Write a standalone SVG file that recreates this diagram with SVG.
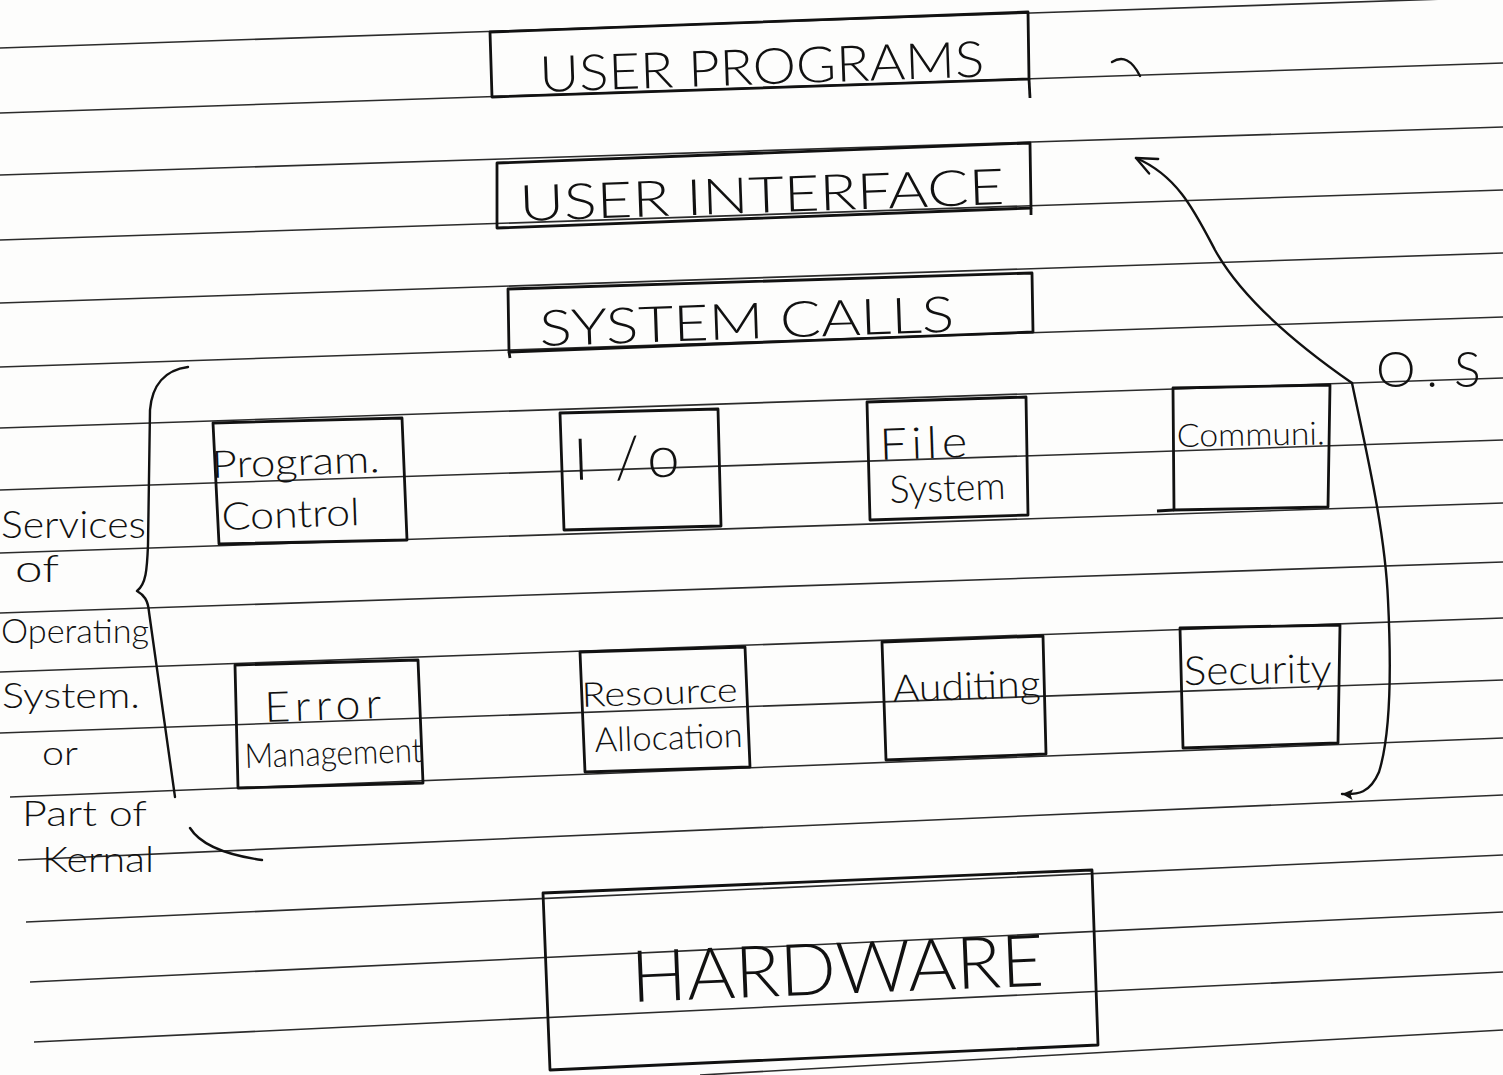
<svg xmlns="http://www.w3.org/2000/svg" width="1503" height="1075" viewBox="0 0 1503 1075">
  <defs>
    <style>
      .rule { stroke: #2b2b2b; stroke-width: 1.6; fill: none; }
      .box { stroke: #111; stroke-width: 2.8; fill: none; stroke-linejoin: round; }
      .ink { stroke: #111; stroke-width: 2.4; fill: none; stroke-linecap: round; stroke-linejoin: round; }
      .cap { font-family: Lato, "Liberation Sans", Arial, sans-serif; font-weight: 300; fill: #111; }
      .hand { font-family: Lato, "Liberation Sans", Arial, sans-serif; font-weight: 300; fill: #111; }
    </style>
    <marker id="openHead" viewBox="0 0 20 20" refX="18" refY="10" markerWidth="26" markerHeight="26" markerUnits="userSpaceOnUse" orient="auto">
      <path d="M18,10 L4,3 M18,10 L2,16" stroke="#111" stroke-width="1.8" fill="none" stroke-linecap="round"/>
    </marker>
    <marker id="solidHead" viewBox="0 0 12 12" refX="11" refY="6" markerWidth="13" markerHeight="13" markerUnits="userSpaceOnUse" orient="auto">
      <path d="M11,6 L1,1 L3,6 L1,11 Z" fill="#111"/>
    </marker>
  </defs>

  <!-- notebook paper -->
  <rect x="0" y="0" width="1503" height="1075" fill="#fdfdfc"/>
  <g id="ruled-lines">
    <line class="rule" x1="0" y1="48" x2="1503" y2="-3"/>
    <line class="rule" x1="0" y1="113" x2="1503" y2="63"/>
    <line class="rule" x1="0" y1="175" x2="1503" y2="127"/>
    <line class="rule" x1="0" y1="240" x2="1503" y2="190"/>
    <line class="rule" x1="0" y1="303" x2="1503" y2="253"/>
    <line class="rule" x1="0" y1="367" x2="1503" y2="317"/>
    <line class="rule" x1="0" y1="428" x2="1503" y2="378"/>
    <line class="rule" x1="0" y1="490" x2="1503" y2="440"/>
    <line class="rule" x1="0" y1="553" x2="1503" y2="503"/>
    <line class="rule" x1="0" y1="613" x2="1503" y2="562"/>
    <line class="rule" x1="0" y1="672" x2="1503" y2="618"/>
    <line class="rule" x1="0" y1="733" x2="1503" y2="680"/>
    <line class="rule" x1="10" y1="797" x2="1503" y2="738"/>
    <line class="rule" x1="18" y1="860" x2="1503" y2="795"/>
    <line class="rule" x1="26" y1="922" x2="1503" y2="855"/>
    <line class="rule" x1="30" y1="982" x2="1503" y2="912"/>
    <line class="rule" x1="34" y1="1042" x2="1503" y2="972"/>
    <line class="rule" x1="700" y1="1075" x2="1503" y2="1030"/>
  </g>

  <!-- layered OS stack -->
  <g id="user-programs">
    <polygon class="box" points="490,32 1028,12 1029,79 492,97"/>
    <line class="box" x1="1029" y1="79" x2="1030" y2="98"/>
    <text class="cap" x="540" y="92" font-size="50" textLength="445" lengthAdjust="spacingAndGlyphs" transform="rotate(-2 540 92)">USER PROGRAMS</text>
  </g>
  <g id="user-interface">
    <polygon class="box" points="497,163 1030,143 1031,208 497,228"/>
    <line class="box" x1="1031" y1="208" x2="1031" y2="215"/>
    <text class="cap" x="520" y="221" font-size="50" textLength="485" lengthAdjust="spacingAndGlyphs" transform="rotate(-2 520 221)">USER INTERFACE</text>
  </g>
  <g id="system-calls">
    <polygon class="box" points="508,289 1032,273 1033,332 509,352"/>
    <line class="box" x1="509" y1="352" x2="510" y2="358"/>
    <text class="cap" x="540" y="346" font-size="50" textLength="415" lengthAdjust="spacingAndGlyphs" transform="rotate(-2 540 346)">SYSTEM CALLS</text>
  </g>

  <!-- operating system services -->
  <g id="program-control">
    <polygon class="box" points="213,423 402,418 407,540 219,544"/>
    <text class="hand" x="212" y="478" font-size="38" textLength="168" lengthAdjust="spacingAndGlyphs" transform="rotate(-2 212 478)">Program.</text>
    <text class="hand" x="222" y="530" font-size="38" textLength="138" lengthAdjust="spacingAndGlyphs" transform="rotate(-2 222 530)">Control</text>
  </g>
  <g id="io">
    <polygon class="box" points="560,413 718,409 721,526 564,530"/>
    <text class="hand" x="574" y="480" font-size="58" dx="0 26 10" transform="rotate(-2 574 480)">I/o</text>
  </g>
  <g id="file-system">
    <polygon class="box" points="867,402 1026,397 1028,515 870,520"/>
    <text class="hand" x="880" y="460" font-size="44" letter-spacing="4" textLength="92" lengthAdjust="spacingAndGlyphs" transform="rotate(-2 880 460)">File</text>
    <text class="hand" x="890" y="503" font-size="38" textLength="116" lengthAdjust="spacingAndGlyphs" transform="rotate(-2 890 503)">System</text>
  </g>
  <g id="communication">
    <polygon class="box" points="1173,388 1330,385 1328,507 1174,510"/>
    <line class="box" x1="1174" y1="510" x2="1157" y2="511"/>
    <text class="hand" x="1177" y="447" font-size="32" textLength="148" lengthAdjust="spacingAndGlyphs" transform="rotate(-1 1177 447)">Communi.</text>
  </g>
  <g id="error-management">
    <polygon class="box" points="235,665 418,660 423,783 238,788"/>
    <text class="hand" x="265" y="722" font-size="42" letter-spacing="5" textLength="122" lengthAdjust="spacingAndGlyphs" transform="rotate(-2 265 722)">Error</text>
    <text class="hand" x="245" y="768" font-size="34" textLength="178" lengthAdjust="spacingAndGlyphs" transform="rotate(-2 245 768)">Management</text>
  </g>
  <g id="resource-allocation">
    <polygon class="box" points="580,652 745,647 750,767 585,772"/>
    <text class="hand" x="582" y="707" font-size="34" textLength="156" lengthAdjust="spacingAndGlyphs" transform="rotate(-2 582 707)">Resource</text>
    <text class="hand" x="595" y="752" font-size="34" textLength="148" lengthAdjust="spacingAndGlyphs" transform="rotate(-2 595 752)">Allocation</text>
  </g>
  <g id="auditing">
    <polygon class="box" points="882,642 1043,636 1046,754 886,760"/>
    <text class="hand" x="893" y="702" font-size="38" textLength="148" lengthAdjust="spacingAndGlyphs" transform="rotate(-2 893 702)">Auditing</text>
  </g>
  <g id="security">
    <polygon class="box" points="1180,628 1340,625 1338,743 1183,748"/>
    <text class="hand" x="1184" y="685" font-size="40" textLength="148" lengthAdjust="spacingAndGlyphs" transform="rotate(-1 1184 685)">Security</text>
  </g>

  <!-- hardware layer -->
  <g id="hardware">
    <polygon class="box" points="543,893 1092,870 1098,1045 550,1070"/>
    <text class="cap" x="632" y="1002" font-size="72" textLength="413" lengthAdjust="spacingAndGlyphs" transform="rotate(-2.3 632 1002)">HARDWARE</text>
  </g>

  <!-- side notes -->
  <g id="os-label">
    <text class="hand" x="1376" y="387" font-size="50" dx="0 12 16">O.S</text>
  </g>
  <g id="services-note">
    <text class="hand" x="1" y="538" font-size="38" textLength="145" lengthAdjust="spacingAndGlyphs">Services</text>
    <text class="hand" x="15" y="582" font-size="38" textLength="44" lengthAdjust="spacingAndGlyphs">of</text>
    <text class="hand" x="1" y="643" font-size="34" textLength="148" lengthAdjust="spacingAndGlyphs">Operating</text>
    <text class="hand" x="2" y="708" font-size="36" textLength="138" lengthAdjust="spacingAndGlyphs">System.</text>
    <text class="hand" x="42" y="765" font-size="34" textLength="36" lengthAdjust="spacingAndGlyphs">or</text>
    <text class="hand" x="22" y="826" font-size="36" textLength="125" lengthAdjust="spacingAndGlyphs">Part of</text>
    <text class="hand" x="42" y="872" font-size="36" textLength="112" lengthAdjust="spacingAndGlyphs">Kernal</text>
  </g>

  <!-- braces and arrows -->
  <g id="connectors">
    <path class="ink" d="M188,367 C165,370 152,385 150,410 L148,545 C147,570 146,584 137,591 C144,595 148,600 149,612 L175,797"/>
    <path class="ink" d="M1352,383 C1290,340 1240,295 1215,250 C1195,212 1178,176 1136,158" marker-end="url(#openHead)"/>
    <path class="ink" d="M1352,383 C1366,450 1385,530 1388,600 C1392,680 1389,740 1379,772 C1370,793 1358,795 1342,794" marker-end="url(#solidHead)"/>
    <path class="ink" d="M190,828 Q205,852 262,860"/>
    <path class="ink" d="M1112,62 Q1128,52 1140,76"/>
  </g>
</svg>
